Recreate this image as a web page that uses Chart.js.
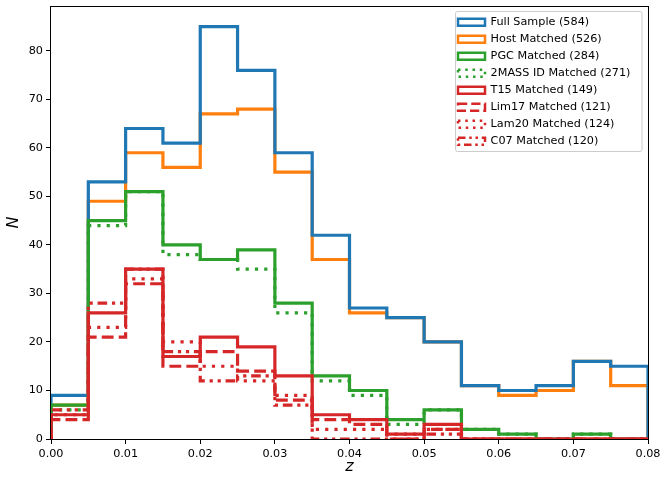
<!DOCTYPE html>
<html>
<head>
<meta charset="utf-8">
<script src="https://cdn.jsdelivr.net/npm/chart.js@4/dist/chart.umd.min.js"></script>
<style>
  html, body { margin: 0; padding: 0; background: #ffffff; }
  #wrap { width: 662px; height: 479px; }
</style>
</head>
<body>
<div id="wrap"><canvas id="chart" width="662" height="479"></canvas></div>
<script>
// Redshift bin edges (bin width 0.005)
const zEdges = [0.000, 0.005, 0.010, 0.015, 0.020, 0.025, 0.030, 0.035, 0.040,
                0.045, 0.050, 0.055, 0.060, 0.065, 0.070, 0.075, 0.080];

// Counts per bin for each sample
const fullSample     = [9, 53, 64, 61, 85, 76, 59, 42, 27, 25, 20, 11, 10, 11, 16, 15];
const hostMatched    = [7, 49, 59, 56, 67, 68, 55, 37, 26, 25, 20, 11, 9, 10, 16, 11];
const pgcMatched     = [7, 45, 51, 40, 37, 39, 28, 13, 10, 4, 6, 2, 1, 0, 1, 0];
const twoMassMatched = [6, 44, 51, 38, 37, 35, 26, 12, 9, 3, 6, 2, 1, 0, 1, 0];
const t15Matched     = [5, 26, 35, 17, 21, 19, 13, 5, 4, 1, 3, 0, 0, 0, 0, 0];
const lim17Matched   = [4, 21, 32, 15, 18, 14, 8, 4, 3, 0, 2, 0, 0, 0, 0, 0];
const lam20Matched   = [5, 23, 33, 20, 15, 12, 9, 2, 2, 1, 2, 0, 0, 0, 0, 0];
const c07Matched     = [6, 28, 35, 18, 12, 13, 7, 0, 0, 0, 1, 0, 0, 0, 0, 0];

const seriesLabels = [
  'Full Sample (584)', 'Host Matched (526)', 'PGC Matched (284)', '2MASS ID Matched (271)',
  'T15 Matched (149)', 'Lim17 Matched (121)', 'Lam20 Matched (124)', 'C07 Matched (120)'
];

// Axis ticks
const xTicks = [0.00, 0.01, 0.02, 0.03, 0.04, 0.05, 0.06, 0.07, 0.08];
const yTicks = [0, 10, 20, 30, 40, 50, 60, 70, 80];
const yMax = 89.25;

// Outline of a step histogram: up from the baseline, across each bin, back down at the end
function stepOutline(counts) {
  const pts = [{ x: zEdges[0], y: 0 }];
  counts.forEach((c, i) => pts.push({ x: zEdges[i], y: c }));
  pts.push({ x: zEdges[zEdges.length - 1], y: 0 });
  return pts;
}

const FONT_FAMILY = "'DejaVu Sans', sans-serif";

// Text size chosen so the widest legend entry spans about 140px with the installed face
function textSize() {
  const probe = document.createElement('canvas').getContext('2d');
  probe.font = '100px ' + FONT_FAMILY;
  const w = probe.measureText(seriesLabels[3]).width;
  const size = 100 * 140 / w;
  return Math.min(13, Math.max(10.5, size));
}
const TEXT_SIZE = textSize();

const LW = 3.2;        // histogram outline width
const LEGEND_LW = 2.5; // legend swatch outline width
const BLUE = '#1f77b4', ORANGE = '#ff7f0e', GREEN = '#2ca02c', RED = '#d62728';
// Dash patterns in units of the line width
const DOTTED = [1.0, 1.9];
const DASHED = [3.7, 1.6];
const DASHDOTDOT = [3.0, 1.5, 1.0, 1.5, 1.0, 1.5];
const scaled = (pattern, w) => pattern.map(v => v * w);

function series(label, counts, color, dash, order) {
  return {
    label: label,
    data: stepOutline(counts),
    borderColor: color,
    backgroundColor: 'rgba(0,0,0,0)',
    borderWidth: LW,
    borderDash: scaled(dash, LW),
    dashPattern: dash,
    borderJoinStyle: 'miter',
    borderCapStyle: 'butt',
    stepped: true,
    pointRadius: 0,
    pointHoverRadius: 0,
    fill: false,
    clip: 0,
    order: order
  };
}

const datasets = [
  series(seriesLabels[0], fullSample, BLUE, [], 6),
  series(seriesLabels[1], hostMatched, ORANGE, [], 7),
  series(seriesLabels[2], pgcMatched, GREEN, [], 5),
  series(seriesLabels[3], twoMassMatched, GREEN, DOTTED, 4),
  series(seriesLabels[4], t15Matched, RED, [], 3),
  series(seriesLabels[5], lim17Matched, RED, DASHED, 2),
  series(seriesLabels[6], lam20Matched, RED, DOTTED, 1),
  series(seriesLabels[7], c07Matched, RED, DASHDOTDOT, 0)
];

// Legend sits in the upper-right corner of the axes, inside a light frame.
// Rows are 17px apart; the first row is centred at y = 22.3.
const ROW_STEP = 17;
const LEGEND_PAD = ROW_STEP - TEXT_SIZE;
const LEGEND = {
  left: 458 - LEGEND_PAD,
  top: 22.3 - LEGEND_PAD - TEXT_SIZE / 2,
  frameX: 455.5, frameY: 11.5, frameW: 186.5, frameH: 140
};

const legendPlacement = {
  id: 'legendPlacement',
  afterLayout(chart) {
    const lg = chart.legend;
    if (!lg) return;
    lg.left = LEGEND.left;
    lg.top = LEGEND.top;
    lg.right = LEGEND.left + 200;
    lg.bottom = LEGEND.top + 180;
    lg.width = 200;
    lg.height = 180;
    lg.adjustHitBoxes();
  },
  beforeDraw(chart) {
    const ctx = chart.ctx;
    ctx.save();
    ctx.beginPath();
    ctx.roundRect(LEGEND.frameX, LEGEND.frameY, LEGEND.frameW, LEGEND.frameH, 2);
    ctx.fillStyle = 'rgba(255,255,255,0.8)';
    ctx.fill();
    ctx.lineWidth = 1;
    ctx.strokeStyle = '#cccccc';
    ctx.stroke();
    ctx.restore();
  }
};

// Box of four spines drawn over the data
const frameBox = {
  id: 'frameBox',
  afterDatasetsDraw(chart) {
    const { left, right, top, bottom } = chart.chartArea;
    const ctx = chart.ctx;
    ctx.save();
    ctx.strokeStyle = '#000000';
    ctx.lineWidth = 1;
    ctx.strokeRect(Math.floor(left) - 0.5, Math.floor(top) + 0.5,
                   Math.round(right - left) + 1, Math.round(bottom - top));
    ctx.restore();
  }
};

Chart.defaults.font.family = FONT_FAMILY;
Chart.defaults.color = '#000000';

new Chart(document.getElementById('chart'), {
  type: 'line',
  data: { datasets: datasets },
  options: {
    responsive: false,
    animation: false,
    devicePixelRatio: 1,
    layout: { padding: { left: 0, top: 6, right: 14, bottom: 0 } },
    plugins: {
      tooltip: { enabled: false },
      legend: {
        display: true,
        position: 'chartArea',
        align: 'start',
        labels: {
          boxWidth: 27,
          boxHeight: 7,
          padding: LEGEND_PAD,
          color: '#000000',
          font: { family: FONT_FAMILY, size: TEXT_SIZE },
          sort: (a, b) => a.datasetIndex - b.datasetIndex,
          generateLabels: (chart) => {
            const items = Chart.defaults.plugins.legend.labels.generateLabels(chart);
            items.forEach(it => {
              const ds = chart.data.datasets[it.datasetIndex];
              it.lineWidth = LEGEND_LW;
              it.lineDash = scaled(ds.dashPattern, LEGEND_LW);
            });
            return items;
          }
        }
      }
    },
    scales: {
      x: {
        type: 'linear',
        min: 0,
        max: 0.08,
        afterFit: (s) => { s.height = 40; s.paddingLeft = 0; s.paddingRight = 0; },
        afterBuildTicks: (s) => { s.ticks = xTicks.map(v => ({ value: v })); },
        ticks: {
          autoSkip: false,
          maxRotation: 0,
          padding: 3,
          color: '#000000',
          font: { size: TEXT_SIZE },
          callback: (v) => Number(v).toFixed(2)
        },
        grid: { display: true, drawOnChartArea: false, drawTicks: true, tickLength: 5, tickWidth: 1, tickColor: '#000000' },
        border: { display: false },
        title: {
          display: true,
          text: 'z',
          color: '#000000',
          font: { size: 16, style: 'italic' },
          padding: { top: 0, bottom: 2.5 }
        }
      },
      y: {
        type: 'linear',
        min: 0,
        max: yMax,
        afterFit: (s) => { s.width = 51; s.paddingTop = 0; s.paddingBottom = 0; },
        afterBuildTicks: (s) => { s.ticks = yTicks.map(v => ({ value: v })); },
        ticks: {
          padding: 3,
          color: '#000000',
          font: { size: TEXT_SIZE }
        },
        grid: { display: true, drawOnChartArea: false, drawTicks: true, tickLength: 5, tickWidth: 1, tickColor: '#000000' },
        border: { display: false },
        title: {
          display: true,
          text: 'N',
          color: '#000000',
          font: { size: 16, style: 'italic' },
          padding: { top: 4.4, bottom: 0 }
        }
      }
    }
  },
  plugins: [legendPlacement, frameBox]
});
</script>
</body>
</html>
